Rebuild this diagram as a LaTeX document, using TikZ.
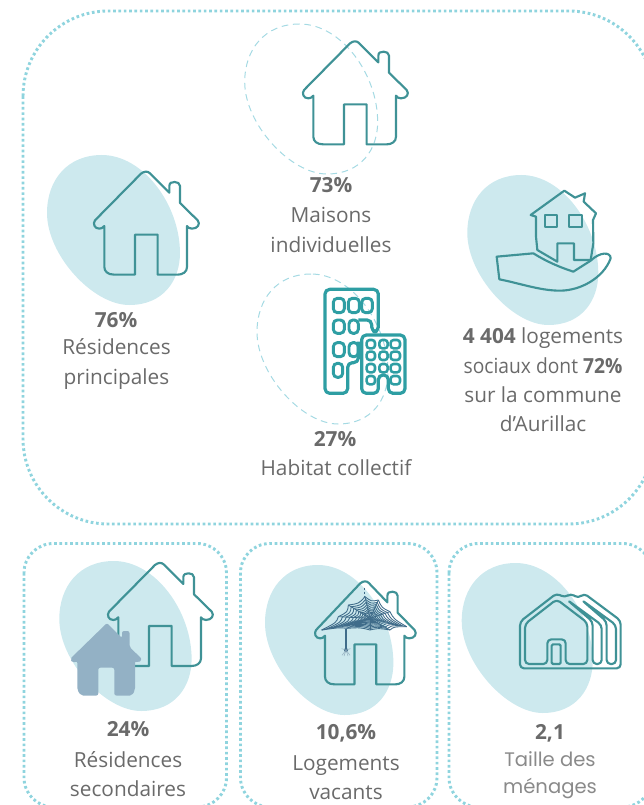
\documentclass[tikz,border=0pt]{standalone}
\usepackage{graphicx}
\usepackage{fontspec}
\setmainfont{Open Sans}
\newfontfamily\lightfont{Poppins}
\definecolor{blobc}{HTML}{CDE9EE}
\definecolor{framec}{HTML}{8FD4DE}
\definecolor{dashc}{HTML}{A5DAE3}
\definecolor{housec}{HTML}{3F9296}
\definecolor{towerc}{HTML}{2E9EA3}
\definecolor{solidc}{HTML}{93B1C5}
\definecolor{webc}{HTML}{3F6C8A}
\definecolor{textc}{HTML}{6A6A6A}
\definecolor{lighttextc}{HTML}{8A8A8A}
\tikzset{
  framebox/.style={draw=framec,line width=2.2pt,dash pattern=on 2pt off 2pt},
  blobfill/.style={fill=blobc},
  blobdash/.style={draw=dashc,line width=.75pt,dash pattern=on 5pt off 3.5pt},
  housestroke/.style={draw=housec,line width=1.6pt,line join=round},
  towerstroke/.style={draw=towerc,line width=2.4pt,line join=round,rounded corners=3.5pt},
  towersmall/.style={draw=towerc,line width=2.2pt,rounded corners=3pt},
  towertiny/.style={draw=towerc,line width=1.9pt,rounded corners=2.2pt},
  stat/.style={text=textc,align=center,font=\fontsize{15.6}{20}\selectfont,inner sep=0pt},
  caption/.style={text=textc,align=center,font=\fontsize{15.6}{22}\selectfont,inner sep=0pt},
}
\newcommand{\eggpath}{(54,0) .. controls (20,0) and (0,25) .. (0,58) .. controls (0,100) and (45,150) .. (81,150) .. controls (115,150) and (131,125) .. (131,98) .. controls (131,50) and (95,0) .. (54,0) -- cycle}
\newcommand{\housepath}{(-15,5) .. controls (-5,-3) and (5,-3) .. (12,4) -- (70,62) -- (70,42) .. controls (70,32) and (78,30) .. (86,30) .. controls (94,30) and (102,34) .. (102,42) -- (102,93) -- (155,145) .. controls (164,156) and (155,170) .. (138,170) .. controls (130,170) and (125,166) .. (123,162) -- (123,285) .. controls (123,300) and (110,308) .. (95,308) -- (35,308) -- (35,188) -- (-33,188) -- (-33,308) -- (-95,308) .. controls (-115,308) and (-125,298) .. (-125,285) -- (-125,162) .. controls (-130,168) and (-135,170) .. (-140,170) .. controls (-155,170) and (-160,155) .. (-153,145) -- cycle}
\begin{document}
\begin{tikzpicture}[x=0.75pt,y=-0.75pt]
\useasboundingbox (0,0) rectangle (643,805);
% frames
\path[framebox,rounded corners=64pt] (23,11) rectangle (654,524);
\path[framebox,rounded corners=22pt] (24,543.5) rectangle (226.5,807);
\path[framebox,rounded corners=22pt] (240.5,543.5) rectangle (437,807);
\path[framebox,rounded corners=22pt] (449,543.5) rectangle (652,807);
% blobs
\fill[blobfill,shift={(47,155)},xscale=1.015] \eggpath;
\fill[blobfill,shift={(467.3,175)}] \eggpath;
\fill[blobfill,shift={(59.3,561)},xscale=1.01] \eggpath;
\fill[blobfill,shift={(265,565)},xscale=.98] \eggpath;
\fill[blobfill,shift={(461.7,563)}] \eggpath;
\path[blobdash,shift={(244.7,24)},xscale=1.015] \eggpath;
\path[blobdash,shift={(257,274)}] \eggpath;
% houses
\path[housestroke,shift={(355,41.7)},scale=1/3] \housepath;
\path[housestroke,shift={(146,172)},scale=1/3] \housepath;
\path[housestroke,shift={(160,563.3)},scale=1/3] \housepath;
\path[housestroke,shift={(365,581.7)},xscale=.32,yscale=1/3] \housepath;
% solid house
\fill[solidc,rounded corners=1.5pt] (107,623) -- (122,638) -- (122,631) -- (129.5,631) -- (129.5,647) -- (142,659) -- (138.5,663) -- (135,661) -- (135,690) -- (132,695.5) -- (114.3,695.5) -- (114.3,667.7) -- (98.3,667.7) -- (98.3,695.5) -- (81,695.5) -- (77.3,690) -- (77.3,661) -- (73,663) -- (70,659) -- cycle;
% tower
\begin{scope}[shift={(250,270)},scale=1/3]
\path[towerstroke] (325,215) -- (325,278) -- (293,278) -- (293,370) -- (225,370) -- (225,58) -- (385,58) -- (385,185) -- (365,185) -- (365,150) -- (325,150);
\foreach \xa/\xb/\ya/\yb in {250/283/85/128,295/328/85/128,335/367/85/128,250/283/150/190,297/325/150/190,250/283/218/260,297/325/218/260,250/278/280/322}
  \path[towersmall] (\xa,\ya) rectangle (\xb,\yb);
\path[towerstroke] (335,370) -- (335,195) -- (465,195) -- (465,370) -- (415,370) -- (415,315) -- (385,315) -- (385,370) -- cycle;
\foreach \xa/\xb in {350/375,388/413,422/450}
  \foreach \ya/\yb in {210/235,245/270,282/307}
    \path[towertiny] (\xa,\ya) rectangle (\xb,\yb);
\path[towertiny] (350,318) rectangle (375,343);
\path[towertiny] (422,318) rectangle (450,343);
\end{scope}
% hand with house
\begin{scope}[shift={(460,170)},scale=1/3]
\path[housestroke] (313,62) -- (345,83) -- (375,70) -- (371,95) -- (408,130) -- (399,150) -- (400,220) -- (392,270) -- (342,270) -- (342,220) -- (292,220) -- (292,275) -- (232,240) -- (228,200) -- (228,140) -- (212,135) -- cycle;
\path[housestroke] (255,135) rectangle (292,170);
\path[housestroke] (328,135) rectangle (365,170);
\path[housestroke] (110,260) -- (220,250) .. controls (260,275) and (300,292) .. (340,305) -- (392,272) .. controls (420,245) and (452,245) .. (452,265) .. controls (430,325) and (360,362) .. (300,362) .. controls (240,362) and (180,340) .. (118,328) -- cycle;
\end{scope}
% stacked houses
\begin{scope}[shift={(450,550)},scale=1/3]
\path[housestroke,rounded corners=3pt] (210,355) -- (210,215) -- (320,130) -- (345,143) -- (362,130) -- (385,145) -- (402,130) -- (512,212) -- (512,355) -- cycle;
\path[housestroke,rounded corners=3pt] (225,342) -- (225,222) -- (320,148) -- (412,218) -- (412,342) -- (347,342) -- (347,268) -- (292,268) -- (292,342) -- cycle;
\path[housestroke,rounded corners=1pt] (305,283) -- (332,283) -- (332,342) -- (305,342) -- cycle;
\path[housestroke,rounded corners=3pt] (352,150) -- (455,225) -- (455,342) -- (428,342) -- (428,215) -- cycle;
\path[housestroke,rounded corners=3pt] (395,150) -- (498,225) -- (498,342) -- (470,342) -- (470,215) -- cycle;
\end{scope}
% web
\begin{scope}[shift={(250,550)},scale=1/3]
\foreach \f in {.1,.17,.25,.33,.42,.52,.63,.75,.87,1}{
  \foreach \a/\b/\c/\d in {-145/35/-95/-5,-95/-5/-65/-40,-65/-40/-15/-65,-15/-65/25/-55,25/-55/60/-20,60/-20/110/25,110/25/60/35,60/35/0/35,0/35/-70/30,-70/30/-145/35}
    \draw[webc,line width=.65pt] ({360+\f*\a},{205+\f*\b}) .. controls ({360+\f*.42*(\a+\c)},{205+\f*.42*(\b+\d)}) .. ({360+\f*\c},{205+\f*\d});
}
\foreach \a/\b in {-145/35,-95/-5,-65/-40,-15/-65,25/-55,60/-20,110/25,60/35,0/35,-70/30}
  \draw[webc,line width=.65pt] (360,205) -- ++(\a,\b);
\draw[webc,line width=.9pt] (288,236) -- (288,300);
\fill[webc] (288,300) circle (6);
\foreach \a/\b in {-12/16,-6/18,6/18,12/16,-13/-4,13/-4}
  \draw[webc!60,line width=.35pt] (288,300) -- ++(\a,\b);
\draw[webc,line width=.7pt,dash pattern=on 2pt off 1pt] (343,113) -- (343,138);
\end{scope}
% labels
\node[stat] (a) at (116,320) {\textbf{76\%}};
\node[caption] (b) at (116.5,364) {Résidences\\principales};
\node[stat] (c) at (331,185) {\textbf{73\%}};
\node[caption] (d) at (331,230) {Maisons\\individuelles};
\node[stat] (e) at (335,439) {\textbf{27\%}};
\node[caption] (f) at (336,468) {Habitat collectif};
\node[caption] (g) at (543,380) {\textbf{4 404} logements\\\scalebox{.925}[1]{sociaux dont \textbf{72\%}}\\sur la commune\\d’Aurillac};
\node[stat] (h) at (128,729) {\textbf{24\%}};
\node[caption] (i) at (128,774) {Résidences\\secondaires};
\node[stat] (j) at (346,733) {\textbf{10,6\%}};
\node[caption] (k) at (346,778) {Logements\\vacants};
\node[stat] (l) at (550,733) {\textbf{2,1}};
\node[caption,text=lighttextc,font=\lightfont\fontsize{14.7}{20}\selectfont] (m) at (550,775) {Taille des\\ménages};
\end{tikzpicture}
\end{document}
